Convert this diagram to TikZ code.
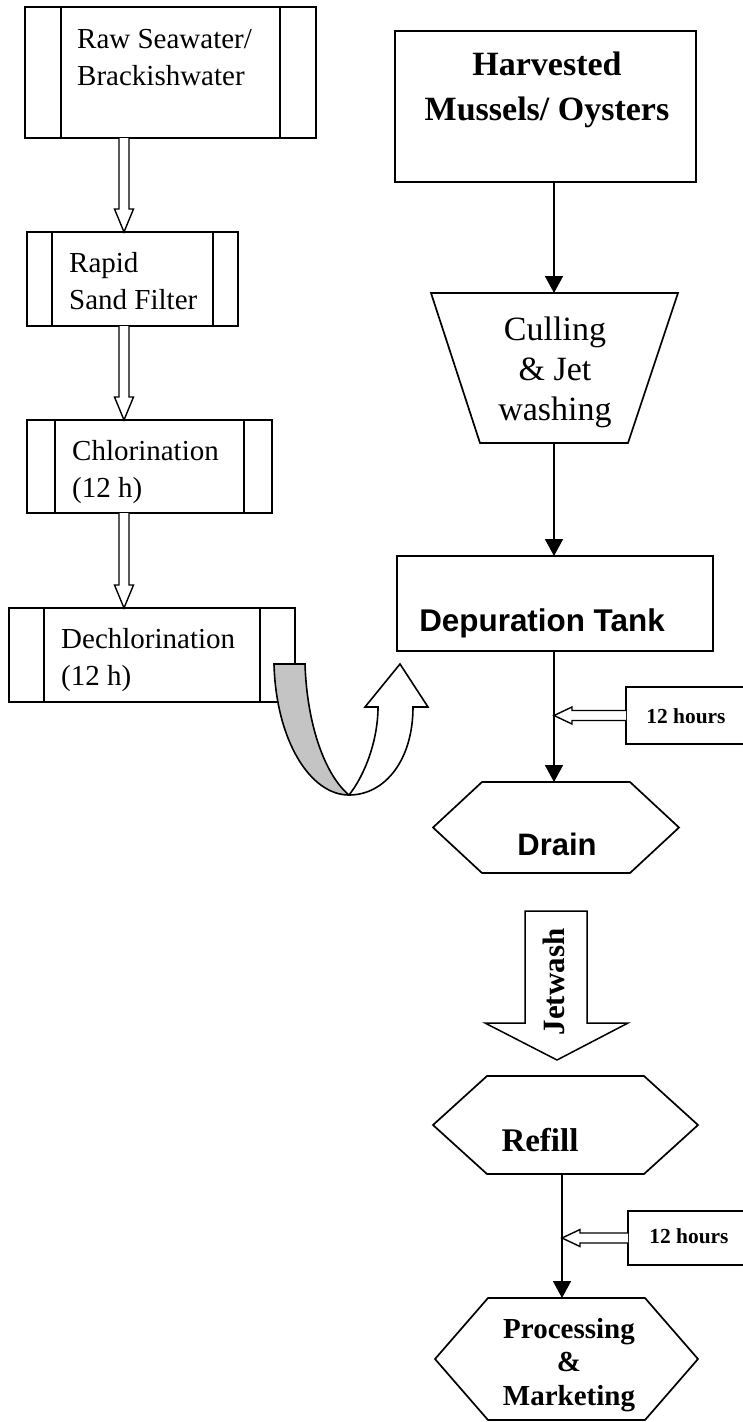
\documentclass[tikz,border=0pt]{standalone}
\usepackage{fontspec}
\setmainfont{Liberation Serif}
\setsansfont{Liberation Sans}
\usetikzlibrary{arrows.meta,calc}
\definecolor{bandgray}{RGB}{196,196,196}
% stacked lines with the baseline of the first line
\newcommand\linesL[1]{\begin{tabular}[t]{@{}l@{}}#1\end{tabular}}
\newcommand\linesC[1]{\begin{tabular}[t]{@{}c@{}}#1\end{tabular}}
% open (hollow) arrow pointing down, from #1 to the tip #2
\newcommand\hollowdown[2]{%
  \draw[hollow] ($(#1)+(-5,0)$) -- ($(#2)+(-5,-23)$) -- ($(#2)+(-9.5,-23)$) -- (#2)
    -- ($(#2)+(9.5,-23)$) -- ($(#2)+(5,-23)$) -- ($(#1)+(5,0)$);}
% open (hollow) arrow pointing left, from #1 to the tip #2
\newcommand\hollowleft[2]{%
  \draw[hollow] ($(#1)+(0,-5)$) -- ($(#2)+(18,-5)$) -- ($(#2)+(18,-8.5)$) -- (#2)
    -- ($(#2)+(18,8.5)$) -- ($(#2)+(18,5)$) -- ($(#1)+(0,5)$);}
% hexagon drawn round an invisible rectangle node #1, corners cut by #2
\newcommand\hexagonround[2]{%
  \draw[outline] (#1.west) -- ($(#1.north west)+(#2,0)$) -- ($(#1.north east)+(-#2,0)$)
    -- (#1.east) -- ($(#1.south east)+(-#2,0)$) -- ($(#1.south west)+(#2,0)$) -- cycle;}

\begin{document}
\begin{tikzpicture}[x=1pt,y=-1pt,line join=miter,
  outline/.style={draw=black,line width=1.7pt},
  hollow/.style={draw=black,line width=1.4pt,fill=white},
  frame/.style={inner sep=0,outer sep=0},
  procbox/.style={outline,frame},
  bars/.style={path picture={
    \draw[line width=1.5pt]
      ([xshift=#1]path picture bounding box.north west) -- ([xshift=#1]path picture bounding box.south west)
      ([xshift=-#1]path picture bounding box.north east) -- ([xshift=-#1]path picture bounding box.south east);}},
  conn/.style={draw=black,line width=1.6pt,-{Triangle[length=17pt,width=18pt]}},
  ltxt/.style={anchor=base west,inner sep=0,font=\fontsize{29}{37}\selectfont},
  btxt/.style={anchor=base,inner sep=0,font=\bfseries\fontsize{#1}{#1}\selectfont},
  stxt/.style={anchor=base,inner sep=0,font=\sffamily\bfseries\fontsize{#1}{#1}\selectfont},
]
\fill[white] (0,0) rectangle (742,1422);
\useasboundingbox (0,0) rectangle (742,1422);

\coordinate (colL) at (124,0);
\coordinate (colR) at (554,0);
\coordinate (colB) at (562,0);

% ---------- water treatment column ----------
\node[procbox,bars=36pt,minimum width=291,minimum height=131] (raw) at (170.5,72.5) {};
\node[ltxt] (rawT) at (77,48) {\linesL{Raw Seawater/\\Brackishwater}};

\node[procbox,bars=25pt,minimum width=211,minimum height=94] (sand) at (132.5,279) {};
\node[ltxt] (sandT) at (69,272) {\linesL{Rapid\\Sand Filter}};

\node[procbox,bars=28pt,minimum width=245,minimum height=93] (chlor) at (149.5,466.5) {};
\node[ltxt] (chlorT) at (72,460) {\linesL{Chlorination\\(12 h)}};

\node[procbox,bars=35pt,minimum width=286,minimum height=94] (dechlor) at (152,655) {};
\node[ltxt] (dechlorT) at (61,648) {\linesL{Dechlorination\\(12 h)}};

\hollowdown{raw.south -| colL}{sand.north -| colL}
\hollowdown{sand.south -| colL}{chlor.north -| colL}
\hollowdown{chlor.south -| colL}{dechlor.north -| colL}

% ---------- shellfish column ----------
\node[procbox,minimum width=301,minimum height=151] (harv) at (545.5,106.5) {};
\node[btxt=34] (harvT) at (547,75) {\fontsize{34}{45}\selectfont\linesC{Harvested\\Mussels/ Oysters}};

\node[frame,minimum width=247,minimum height=150] (cull) at (554.5,368) {};
\draw[outline] (cull.north west) -- (cull.north east) -- ($(cull.south east)+(-50,0)$)
  -- ($(cull.south west)+(49,0)$) -- cycle;
\node[btxt=34,font=\mdseries\fontsize{34}{40}\selectfont] (cullT) at (555,340) {\linesC{Culling\\\& Jet\\washing}};

\node[procbox,minimum width=316,minimum height=95] (tank) at (555,603.5) {};
\node[stxt=31.4] (tankT) at (542,631) {Depuration Tank};

\node[procbox,minimum width=120,minimum height=57] (hrsA) at (686,715.5) {};
\node[btxt=21.4] (hrsAT) at (686,723) {12 hours};

\node[frame,minimum width=246,minimum height=91] (drain) at (556,827.5) {};
\hexagonround{drain}{49}
\node[stxt=31] (drainT) at (557,855) {Drain};

\draw[conn] (harv.south -| colR) -- (cull.north -| colR);
\draw[conn] (cull.south -| colR) -- (tank.north -| colR);
\draw[conn] (tank.south -| colR) -- (drain.north -| colR);
\hollowleft{hrsA.west}{hrsA.west -| colR}

% big open arrow carrying the jet wash label
\coordinate (jw) at (556,911);
\begin{scope}[shift={(jw)}]
  \draw[outline,line width=1.5pt,fill=white] (-31,0) -- (-31,112) -- (-71,112) -- (1,149)
    -- (72,112) -- (31,112) -- (31,0) -- cycle;
\end{scope}
\node[rotate=90,inner sep=0,font=\bfseries\fontsize{31}{31}\selectfont] (jwT) at (554,982) {Jetwash};

\node[frame,minimum width=265,minimum height=98] (refill) at (565.5,1125) {};
\hexagonround{refill}{54}
\node[btxt=33] (refillT) at (540,1151) {Refill};

\node[procbox,minimum width=118,minimum height=54] (hrsB) at (687,1238) {};
\node[btxt=21.4] (hrsBT) at (689,1243) {12 hours};

\node[frame,minimum width=263,minimum height=122] (proc) at (566.5,1359) {};
\hexagonround{proc}{53}
\node[btxt=29] (procT) at (569,1338) {\fontsize{29}{33.5}\selectfont\linesC{Processing\\\&\\Marketing}};

\draw[conn] (refill.south -| colB) -- (proc.north -| colB);
\hollowleft{hrsB.west}{hrsB.west -| colB}

% ---------- U-turn arrow from the dechlorinated water to the tank ----------
\draw[outline,line width=1.6pt,fill=bandgray] (274,664) -- (305,664)
  .. controls (307,725) and (325,775) .. (349,795)
  .. controls (310,795) and (276,740) .. (274,664) -- cycle;
\draw[outline,line width=1.6pt,fill=white] (349,795)
  .. controls (385,795) and (413,760) .. (413,707) -- (428,707) -- (400,664) -- (365,707)
  -- (378,707) .. controls (378,740) and (365,775) .. (349,795) -- cycle;
\end{tikzpicture}
\end{document}
